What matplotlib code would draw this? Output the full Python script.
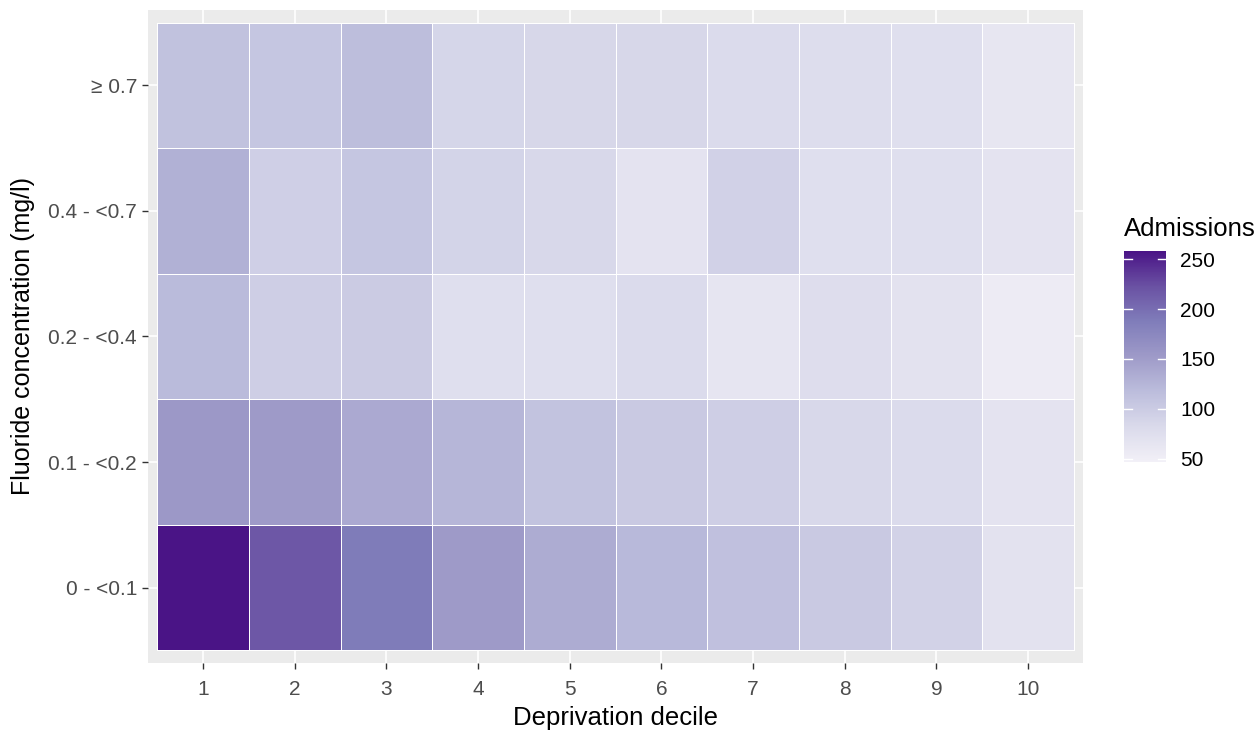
import numpy as np
import matplotlib
matplotlib.use("Agg")
import matplotlib.pyplot as plt
from matplotlib.colors import LinearSegmentedColormap, Normalize

plt.rcParams['font.family'] = ['Liberation Sans', 'DejaVu Sans']

# data
deciles = [1, 2, 3, 4, 5, 6, 7, 8, 9, 10]
fluoride = ['0 - <0.1', '0.1 - <0.2', '0.2 - <0.4', '0.4 - <0.7', '\u2265 0.7']
adm_0_01 = [258, 218, 188, 153, 135, 122, 113, 103, 92, 70]
adm_01_02 = [155, 152, 137, 125, 110, 103, 97, 85, 80, 68]
adm_02_04 = [120, 97, 100, 75, 75, 80, 65, 77, 70, 55]
adm_04_07 = [130, 95, 107, 90, 85, 68, 93, 75, 75, 68]
adm_07 = [112, 107, 117, 88, 86, 86, 80, 78, 75, 64]

admissions = np.array([adm_0_01, adm_01_02, adm_02_04, adm_04_07, adm_07])

# ColorBrewer Purples (7 class), as scale_fill_distiller
purples = ['#f2f0f7', '#dadaeb', '#bcbddc', '#9e9ac8', '#807dba', '#6a51a3', '#4a1486']
cmap = LinearSegmentedColormap.from_list('purples', purples)
norm = Normalize(vmin=47, vmax=258)

fig = plt.figure(figsize=(12.58, 7.32), dpi=100)
ax = fig.add_axes([148 / 1258, 1 - 663 / 732, (1083 - 148) / 1258, (663 - 10) / 732])
ax.set_facecolor('#ebebeb')

x_edges = np.arange(len(deciles) + 1) + 0.5
y_edges = np.arange(len(fluoride) + 1) + 0.5
ax.pcolormesh(x_edges, y_edges, admissions, cmap=cmap, norm=norm,
              edgecolors='white', linewidth=0.6, zorder=2)

ax.set_xlim(0.4, 10.6)
ax.set_ylim(0.4, 5.6)
ax.set_xticks(deciles)
ax.set_xticklabels([str(d) for d in deciles])
ax.set_yticks(range(1, len(fluoride) + 1))
ax.set_yticklabels(fluoride)
ax.grid(True, color='white', linewidth=1.2, zorder=0)
ax.set_axisbelow(True)
for s in ax.spines.values():
    s.set_visible(False)
ax.tick_params(colors='#333333', length=4, width=1, labelsize=15, labelcolor='#4d4d4d')
ax.tick_params(axis='x', pad=8)
ax.tick_params(axis='y', pad=4)

ax.set_xlabel('Deprivation decile', fontsize=18.5, color='black', va='baseline')
ax.xaxis.set_label_coords(0.5, (663 - 725) / 653)
ax.set_ylabel('Fluoride concentration (mg/l)', fontsize=18, color='black', va='center')
ax.yaxis.set_label_coords((23 - 148) / 935, 0.5)

# legend colourbar
cax = fig.add_axes([1124 / 1258, 1 - 462 / 732, 42 / 1258, 211 / 732])
cb = fig.colorbar(plt.cm.ScalarMappable(norm=norm, cmap=cmap), cax=cax)
cb.outline.set_visible(False)
cb.set_ticks([50, 100, 150, 200, 250])
cax.tick_params(length=0, labelsize=15, labelcolor='black', pad=10)
for t in [50, 100, 150, 200, 250]:
    cax.plot([0, 0.2], [t, t], color='white', linewidth=1, transform=cax.get_yaxis_transform())
    cax.plot([0.8, 1], [t, t], color='white', linewidth=1, transform=cax.get_yaxis_transform())
cax.set_title('Admissions', loc='left', fontsize=18.5, pad=11)

fig.savefig('out.png', dpi=100)
